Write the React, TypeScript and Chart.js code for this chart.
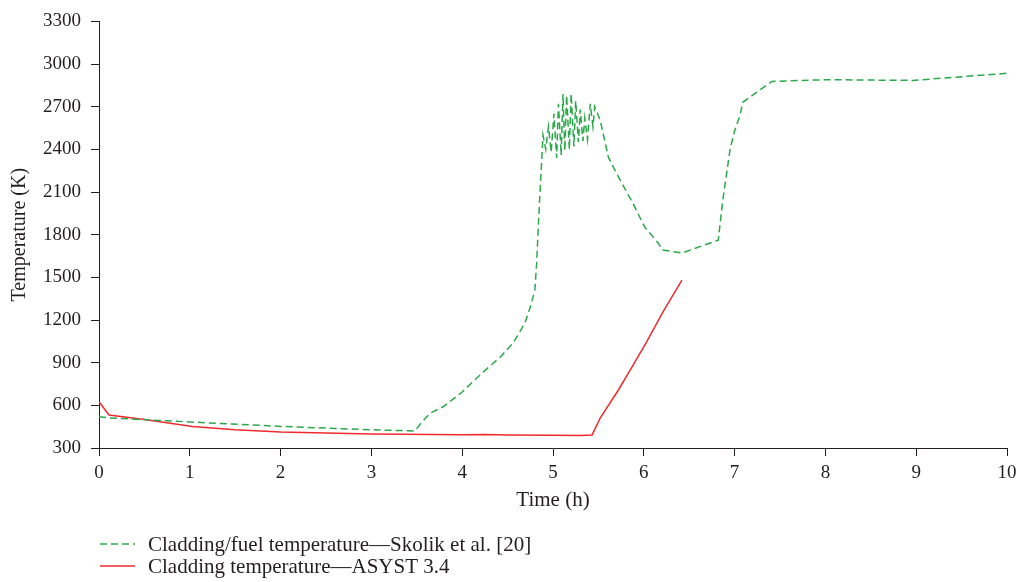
import { useEffect, useRef } from "react";
import { Chart, registerables } from "chart.js";

Chart.register(...registerables);

// Skolik et al. [20] — cladding/fuel temperature (K) vs time (h)
const skolikTime = [
  0, 0.1, 1, 2, 3, 3.48, 3.55, 3.65, 3.79, 4.0, 4.23, 4.42, 4.56, 4.69, 4.75, 4.8, 4.82, 4.84, 4.86,
  4.89, 4.92, 4.95, 4.98, 5.01, 5.04, 5.06, 5.09, 5.11, 5.13, 5.15, 5.18, 5.2, 5.23, 5.25, 5.28, 5.3,
  5.33, 5.35, 5.38, 5.41, 5.44, 5.46, 5.52, 5.61, 5.7, 5.88, 6.01, 6.16, 6.21, 6.42, 6.82, 6.87, 6.95,
  7.0, 7.06, 7.09, 7.41, 8.0, 8.96, 10.0,
];
const skolikTemp = [
  520, 512, 483, 452, 428, 420, 478, 546, 590, 694, 834, 940, 1038, 1178, 1291, 1410, 1600, 1881, 2134,
  2500, 2400, 2560, 2380, 2650, 2340, 2720, 2360, 2790, 2390, 2780, 2400, 2790, 2420, 2740, 2450, 2680,
  2460, 2620, 2470, 2720, 2560, 2700, 2605, 2345, 2230, 2021, 1853, 1740, 1692, 1671, 1762, 2043, 2400,
  2530, 2640, 2731, 2878, 2890, 2885, 2935,
];

// ASYST 3.4 — cladding temperature (K) vs time (h)
const asystTime = [0, 0.11, 0.5, 1.03, 1.5, 2, 3, 4, 4.25, 4.5, 5, 5.3, 5.43, 5.52, 5.72, 5.85, 6.03, 6.21, 6.42];
const asystTemp = [625, 532, 500, 452, 428, 412, 398, 394, 395, 392, 390, 388, 392, 511, 708, 848, 1045, 1256, 1480];

const xTicks = [0, 1, 2, 3, 4, 5, 6, 7, 8, 9, 10];
const yTicks = [300, 600, 900, 1200, 1500, 1800, 2100, 2400, 2700, 3000, 3300];

const seriesLabels = [
  "Cladding/fuel temperature\u2014Skolik et al. [20]",
  "Cladding temperature\u2014ASYST 3.4",
];
const xTitle = "Time (h)";
const yTitle = "Temperature (K)";

const FONT = "'Liberation Serif', 'DejaVu Serif', serif";
const TEXT = "#231f20";
const GREEN = "#2ba84a";
const RED = "#ee2a2e";

export default function App() {
  const ref = useRef<HTMLCanvasElement>(null);

  useEffect(() => {
    document.body.style.margin = "0";
    const canvas = ref.current;
    if (!canvas) return;

    const stackedLegend = {
      id: "stackedLegend",
      afterDraw(chart: any) {
        const ctx = chart.ctx;
        const left = chart.chartArea.left;
        const base = chart.chartArea.bottom + 96;
        chart.data.datasets.forEach((ds: any, i: number) => {
          const y = base + i * 22;
          ctx.save();
          ctx.strokeStyle = ds.borderColor;
          ctx.lineWidth = 1.5;
          ctx.setLineDash(ds.borderDash || []);
          ctx.beginPath();
          ctx.moveTo(left + 1, y);
          ctx.lineTo(left + 36, y);
          ctx.stroke();
          ctx.setLineDash([]);
          ctx.fillStyle = TEXT;
          ctx.font = `21px ${FONT}`;
          ctx.textBaseline = "middle";
          ctx.textAlign = "left";
          ctx.fillText(ds.label, left + 49, y + 1);
          ctx.restore();
        });
      },
    };

    const chart = new Chart(canvas, {
      type: "line",
      data: {
        datasets: [
          {
            label: seriesLabels[0],
            data: skolikTime.map((t, i) => ({ x: t, y: skolikTemp[i] })),
            borderColor: GREEN,
            borderWidth: 1.5,
            borderDash: [7, 4],
            pointRadius: 0,
            fill: false,
            tension: 0,
          },
          {
            label: seriesLabels[1],
            data: asystTime.map((t, i) => ({ x: t, y: asystTemp[i] })),
            borderColor: RED,
            borderWidth: 1.5,
            pointRadius: 0,
            fill: false,
            tension: 0,
          },
        ],
      },
      options: {
        animation: false,
        responsive: false,
        maintainAspectRatio: false,
        layout: { padding: { left: 0, right: 12, top: 21, bottom: 64 } },
        plugins: {
          legend: { display: false },
          tooltip: { enabled: false },
        },
        scales: {
          x: {
            type: "linear",
            min: 0,
            max: 10,
            afterBuildTicks: (s: any) => {
              s.ticks = xTicks.map((v) => ({ value: v }));
            },
            afterFit: (s: any) => {
              s.height = 70;
              s.paddingRight = 2;
              s.paddingLeft = 0;
            },
            grid: {
              display: true,
              drawOnChartArea: false,
              drawTicks: true,
              tickLength: 8,
              color: "#231f20",
              lineWidth: 1,
            },
            border: { display: true, color: "#231f20", width: 1 },
            ticks: {
              color: TEXT,
              font: { family: FONT, size: 19 },
              padding: 6,
              maxRotation: 0,
              autoSkip: false,
              callback: (v: any) => String(v),
            },
            title: {
              display: true,
              text: xTitle,
              color: TEXT,
              font: { family: FONT, size: 21 },
              padding: { top: 0, bottom: 5 },
            },
          },
          y: {
            type: "linear",
            min: 300,
            max: 3300,
            afterBuildTicks: (s: any) => {
              s.ticks = yTicks.map((v) => ({ value: v }));
            },
            afterFit: (s: any) => {
              s.width = 99;
            },
            grid: {
              display: true,
              drawOnChartArea: false,
              drawTicks: true,
              tickLength: 8,
              color: "#231f20",
              lineWidth: 1,
            },
            border: { display: true, color: "#231f20", width: 1 },
            ticks: {
              color: TEXT,
              font: { family: FONT, size: 19 },
              padding: 10,
              autoSkip: false,
              callback: (v: any) => String(v),
            },
            title: {
              display: true,
              text: yTitle,
              color: TEXT,
              font: { family: FONT, size: 20 },
              padding: { top: 8, bottom: 0 },
            },
          },
        },
      },
      plugins: [stackedLegend],
    });

    return () => chart.destroy();
  }, []);

  return (
    <div style={{ position: "absolute", left: 0, top: 0, width: 1019, height: 582, background: "#fff" }}>
      <canvas ref={ref} width={1019} height={582} style={{ display: "block" }} />
    </div>
  );
}
